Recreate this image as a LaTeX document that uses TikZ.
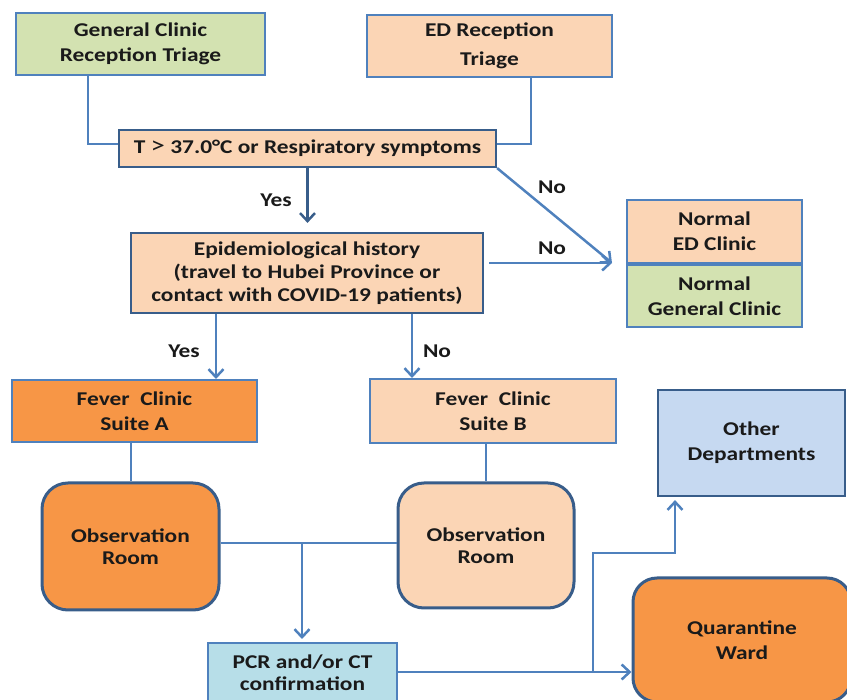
\documentclass[tikz,border=0pt]{standalone}
\usepackage{fontspec}
\setmainfont{Carlito}[FakeStretch=1.2]
\usetikzlibrary{arrows.meta}
\definecolor{peach}{HTML}{FBD5B5}
\definecolor{orng}{HTML}{F79646}
\definecolor{olive}{HTML}{D3E2B1}
\definecolor{skyb}{HTML}{C6D9F1}
\definecolor{aqua}{HTML}{B7DEE8}
\definecolor{brdlight}{HTML}{4F81BD}
\definecolor{brddark}{HTML}{385D8A}
\definecolor{txt}{HTML}{1A1A1A}
\begin{document}
\begin{tikzpicture}[x=1pt,y=-1pt,
  font=\fontsize{19.5}{25}\selectfont\bfseries,
  box/.style={draw=brdlight, line width=2pt, fill=#1, text=txt, align=center, inner sep=0pt},
  dbox/.style={draw=brddark, line width=2.2pt, fill=#1, text=txt, align=center, inner sep=0pt},
  conn/.style={draw=brdlight, line width=2.5pt},
  arr/.style={conn, -{Straight Barb[length=8pt,width=15pt]}},
  lbl/.style={text=txt, inner sep=0pt}]
\useasboundingbox (0,0) rectangle (847,700);
\clip (0,0) rectangle (847,700);

% boxes
\node[box=olive, minimum width=249pt, minimum height=62pt] (gen) at (140.5,44) {General Clinic\\Reception Triage};
\node[box=peach, minimum width=245pt, minimum height=62pt, font=\fontsize{19.5}{29}\selectfont\bfseries] (ed) at (489.5,46) {ED Reception\\Triage};
\node[dbox=peach, minimum width=377pt, minimum height=37pt] (temp) at (307.5,148.5) {T {\mdseries\fontsize{24}{25}\selectfont >} 37.0°C or Respiratory symptoms};
\node[dbox=peach, minimum width=352pt, minimum height=80pt, font=\fontsize{19.5}{23}\selectfont\bfseries] (epi) at (307,273) {Epidemiological history\\(travel to Hubei Province or\\contact with COVID-19 patients)};
\node[box=peach, minimum width=175pt, minimum height=63pt] (ned) at (714.5,231.5) {Normal\\ED Clinic};
\node[box=olive, minimum width=175pt, minimum height=62pt] (ngen) at (714.5,296) {Normal\\General Clinic};
\node[box=orng, minimum width=245pt, minimum height=62pt] (sa) at (134.5,411) {Fever\ \ Clinic\\Suite A};
\node[box=peach, minimum width=246pt, minimum height=64pt] (sb) at (493,411) {Fever\ \ Clinic\\Suite B};
\node[dbox=skyb, minimum width=187pt, minimum height=106pt] (oth) at (751.5,443) {Other\\Departments};
\node[dbox=orng, line width=3pt, rounded corners=26pt, minimum width=177pt, minimum height=127pt, font=\fontsize{19.5}{22}\selectfont\bfseries] (oa) at (130.5,546.5) {Observation\\Room};
\node[dbox=peach, line width=3pt, rounded corners=26pt, minimum width=176pt, minimum height=125pt, font=\fontsize{19.5}{22}\selectfont\bfseries] (ob) at (486,545.5) {Observation\\Room};
\node[box=aqua, minimum width=189pt, minimum height=60pt, font=\fontsize{19.5}{22}\selectfont\bfseries] (pcr) at (302.5,673) {PCR and/or CT\\confirmation};
\node[dbox=orng, line width=3pt, rounded corners=24pt, minimum width=218pt, minimum height=124pt] (qw) at (742,640) {Quarantine\\Ward};

% connectors
\draw[conn] ([xshift=-52.5pt]gen.south) |- ([yshift=4.5pt]temp.west);
\draw[conn] ([xshift=41.5pt]ed.south) |- ([yshift=4.5pt]temp.east);
\draw[arr, draw=brddark, shorten >=9pt] (temp.south) -- (temp.south |- epi.north);
\coordinate (nin) at ([xshift=-14pt, yshift=1pt]ned.south west);
\draw[arr] (temp.south east) -- (nin);
\draw[arr] ([xshift=5pt]epi.east |- nin) -- (nin);
\draw[arr] ([xshift=-91pt]epi.south) coordinate (ya) -- (ya |- sa.north);
\draw[arr] ([xshift=105pt]epi.south) coordinate (nb) -- (nb |- sb.north);
\draw[conn] ([xshift=-3.5pt]sa.south) coordinate (sac) -- (sac |- oa.north);
\draw[conn] (ob.north |- sb.south) -- (ob.north);
\draw[conn] ([yshift=3.5pt]oa.east) -- ([yshift=2.5pt]ob.west);
\coordinate (jn) at (302,543);
\draw[arr, shorten >=3pt] (jn) -- (jn |- pcr.north);
\draw[arr] ([yshift=1pt]pcr.east) -- ([yshift=1pt]pcr.east -| qw.west);
\coordinate (br) at (593,672);
\draw[arr, shorten >=3pt] (br) |- ([xshift=-76.5pt, yshift=-56pt]oth.south) -- ([xshift=-76.5pt]oth.south);

% labels
\node[lbl] (l1) at (276,200) {Yes};
\node[lbl] (l2) at (552,187) {No};
\node[lbl] (l3) at (552,248) {No};
\node[lbl] (l4) at (184,351) {Yes};
\node[lbl] (l5) at (437,351) {No};
\end{tikzpicture}
\end{document}
